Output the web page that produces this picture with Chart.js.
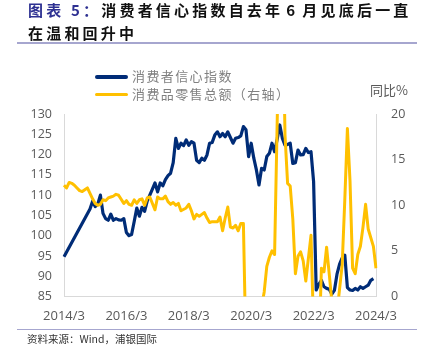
<!DOCTYPE html>
<html><head><meta charset="utf-8">
<script src="https://cdn.jsdelivr.net/npm/chart.js@4/dist/chart.umd.min.js"></script>
<style>
html,body{margin:0;padding:0;background:#fff;}
#wrap{position:relative;width:422px;height:356px;overflow:hidden;font-family:"Noto Sans CJK SC","Noto Sans",sans-serif;}
#cv{position:absolute;left:0;top:0;}
.title{position:absolute;left:28px;top:-1px;font-size:15px;font-weight:bold;letter-spacing:3.2px;line-height:22.5px;color:#111;white-space:nowrap;}
.title .hd{color:#2E3192;}
.rule{position:absolute;left:17px;width:400px;background:#A6A6CF;}
.lgline{position:absolute;left:95px;width:33px;height:3.5px;border-radius:2px;}
.lgtext{position:absolute;left:132px;font-size:13px;letter-spacing:1.4px;line-height:16px;color:#808080;white-space:nowrap;}
.unit{position:absolute;left:370px;top:81.5px;font-size:13px;line-height:16px;color:#595959;white-space:nowrap;}
.src{position:absolute;left:27px;top:332px;font-size:10.5px;line-height:14px;color:#333;white-space:nowrap;}
</style>
</head><body>
<div id="wrap">
<canvas id="cv" width="422" height="356"></canvas>
<div class="title"><span class="hd">图表 5：</span>消费者信心指数自去年<span style="margin:0 4px 0 3px">6</span>月见底后一直<br>在温和回升中</div>
<div class="rule" style="top:42px;height:2px;"></div>
<div class="lgline" style="top:75px;background:#002C77;"></div>
<div class="lgtext" style="top:68px;">消费者信心指数</div>
<div class="lgline" style="top:92.5px;background:#FFC000;"></div>
<div class="lgtext" style="top:85.5px;">消费品零售总额（右轴）</div>
<div class="unit">同比%</div>
<div class="rule" style="top:328.5px;height:1.5px;"></div>
<div class="src">资料来源：Wind，浦银国际</div>
</div>
<script>
// categories: monthly, 2014/3 .. 2024/3
const months = [];
for (let y = 2014, m = 3; y < 2024 || (y === 2024 && m <= 3); ) {
  months.push(y + '/' + m);
  m++; if (m > 12) { m = 1; y++; }
}
const tickLabels = ['2014/3','2016/3','2018/3','2020/3','2022/3','2024/3'];

// 消费者信心指数 (left axis), from 2014/3
const confidence = [
  94.8, null, null, null, null, null, null, null, null, null,
  106.6, 108.5, 107.2, 107.8, 110.0, 105.5, 104.2, 103.8, 105.3, 103.8, 104.2, 103.9,
  103.8, 104.2, 100.8, 100.0, 100.3, 103.5, 106.8, 104.8, 107.0, 106.0, 108.5, 110.0,
  111.5, 113.0, 110.8, 113.0, 112.3, 113.8, 114.8, 115.4, 118.0, 124.0, 121.5, 122.8,
  122.2, 123.6, 122.3, 123.2, 122.8, 118.6, 118.0, 119.1, 118.6, 119.9, 122.8, 123.0,
  124.8, 125.6, 124.4, 125.2, 124.4, 125.6, 124.2, 122.8, 124.0, 124.2, 124.6, 126.9,
  126.1, 119.5, 122.8, 119.1, 116.2, 112.5, 116.6, 116.2, 119.5, 120.3, 122.8, 120.7,
  123.8, 127.3, 124.0, 122.3, 122.5, 122.8, 117.8, 118.0, 121.1, 119.9, 120.0, 121.5,
  120.5, 120.7, 113.3, 86.6, 88.0, 89.0, 87.4, 87.0, 86.8, 85.6, 86.5, 90.5,
  93.0, 94.5, 95.2, 87.2, 86.6, 86.5, 87.0, 86.6, 87.4, 87.0, 87.4, 87.8,
  89.0, 89.4, null
];

// 消费品零售总额 同比% (right axis), from 2014/3; January merged into Jan-Feb
const retailYoY = [
  12.2, 11.9, 12.5, 12.4, 12.2, 11.9, 11.6, 11.5, 11.7, 11.9,
  null, 10.7, 10.2, 10.0, 10.1, 10.6, 10.5, 10.8, 10.9, 11.0, 11.2, 11.1,
  null, 10.2, 10.5, 10.1, 10.0, 10.6, 10.2, 10.6, 10.7, 10.0, 10.8, 10.9,
  null, 9.5, 10.9, 10.7, 10.7, 11.0, 10.4, 10.1, 10.3, 10.0, 10.2, 9.4,
  null, 9.7, 10.1, 9.4, 8.5, 9.0, 8.8, 9.0, 9.2, 8.6, 8.1, 8.2,
  null, 8.2, 8.7, 7.2, 8.6, 9.8, 7.6, 7.5, 7.8, 7.2, 8.0, 8.0,
  null, -20.5, -15.8, -7.5, -2.8, -1.8, -1.1, 0.5, 3.3, 4.3, 5.0, 4.6,
  null, 33.8, 34.2, 17.7, 12.4, 12.1, 8.5, 2.5, 4.4, 4.9, 3.9, 1.7,
  null, 6.7, -3.5, -11.1, -6.7, 3.1, 2.7, 5.4, 2.5, -0.5, -5.9, -1.8,
  null, 3.5, 10.6, 18.4, 12.7, 3.1, 2.5, 4.6, 5.5, 7.6, 10.1, 7.4,
  null, 5.5, 3.1
];

const tickFont = {family: 'Open Sans', size: 12.5};
const axisBorder = {display: true, color: '#D9D9D9', width: 1};

new Chart(document.getElementById('cv'), {
  type: 'line',
  data: {
    labels: months,
    datasets: [
      {label: '消费品零售总额（右轴）', data: retailYoY, yAxisID: 'yR', borderColor: '#FFC000',
       borderWidth: 3, pointRadius: 0, tension: 0, spanGaps: true, order: 0, borderJoinStyle: 'round'},
      {label: '消费者信心指数', data: confidence, yAxisID: 'yL', borderColor: '#002C77',
       borderWidth: 3.2, pointRadius: 0, tension: 0, spanGaps: true, order: 1, borderJoinStyle: 'round'}
    ]
  },
  options: {
    responsive: false, animation: false, devicePixelRatio: 1,
    layout: {padding: {top: 114, bottom: 29.5, left: 0, right: 0}},
    plugins: {legend: {display: false}, tooltip: {enabled: false}},
    scales: {
      x: {
        type: 'category',
        grid: {display: false, drawTicks: false},
        border: axisBorder,
        ticks: {autoSkip: false, maxRotation: 0, minRotation: 0, padding: 12, color: '#595959',
          font: {family: 'Open Sans', size: 13},
          callback: function (v) { const l = this.getLabelForValue(v); return tickLabels.includes(l) ? l : ''; }},
        afterFit: s => { s.height = 30; }
      },
      yL: {
        position: 'left', min: 85, max: 130,
        grid: {display: false, drawTicks: false},
        border: axisBorder,
        ticks: {stepSize: 5, padding: 12, color: '#595959', font: tickFont},
        afterFit: s => { s.width = 64; }
      },
      yR: {
        position: 'right', min: 0, max: 20,
        grid: {display: false, drawTicks: false},
        border: axisBorder,
        ticks: {stepSize: 5, padding: 15, color: '#595959', font: tickFont},
        afterFit: s => { s.width = 46; }
      }
    }
  }
});
</script>
</body></html>
